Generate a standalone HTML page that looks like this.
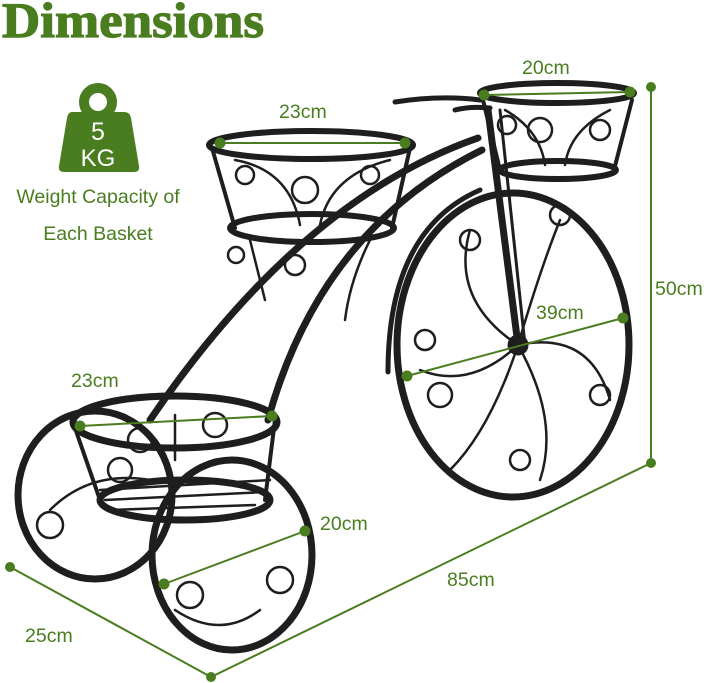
<!DOCTYPE html>
<html><head><meta charset="utf-8"><style>
html,body{margin:0;padding:0;background:#fff;width:720px;height:683px;overflow:hidden}
svg{display:block}
text{font-family:"Liberation Sans",sans-serif;fill:#4a7d1f}
</style></head><body>
<svg width="720" height="683" viewBox="0 0 720 683" xmlns="http://www.w3.org/2000/svg">
<text x="2" y="37" style="font-family:'Liberation Serif',serif;font-weight:bold;font-size:50px;stroke:#4a7d1f;stroke-width:1.2" textLength="262" lengthAdjust="spacingAndGlyphs">Dimensions</text>
<!-- weight icon -->
<circle cx="98" cy="102" r="14" fill="none" stroke="#4a7d1f" stroke-width="10"/>
<path d="M72 112 H124 Q130 112 131 118 L139 166 Q140 172 134 172 H64 Q58 172 59 166 L67 118 Q68 112 72 112Z" fill="#4a7d1f"/>
<text x="98" y="140" text-anchor="middle" style="fill:#fff;font-size:25px">5</text>
<text x="98" y="166" text-anchor="middle" style="fill:#fff;font-size:24px">KG</text>
<text x="98" y="203" text-anchor="middle" style="font-size:19.5px">Weight Capacity of</text>
<text x="98" y="240" text-anchor="middle" style="font-size:19.5px">Each Basket</text>

<g fill="none" stroke="#1e1e1e" stroke-linecap="round">
<path d="M150 420 Q300 200 478 138" stroke-width="7"/>
<path d="M268 420 Q320 230 482 150" stroke-width="7"/>
<path d="M395 102 Q440 95 480 100" stroke-width="5"/>
<path d="M455 110 Q470 106 490 108" stroke-width="5"/>
<path d="M488 110 L518 345" stroke-width="7"/>
<path d="M500 110 L525 345" stroke-width="3"/>
<ellipse cx="513" cy="345" rx="116" ry="152" stroke-width="7"/>
<path d="M388 372 Q388 230 480 190" stroke-width="5"/>
<circle cx="518" cy="345" r="10" fill="#1e1e1e"/>
<g stroke-width="2.5">
<path d="M518 345 Q470 390 420 370"/><path d="M518 345 Q490 430 450 470"/><path d="M518 345 Q560 420 540 480"/>
<path d="M518 345 Q590 330 610 400"/><path d="M518 345 Q540 270 560 220"/><path d="M518 345 Q450 300 470 230"/>
<circle cx="440" cy="395" r="12"/><circle cx="520" cy="460" r="10"/><circle cx="600" cy="395" r="10"/>
<circle cx="425" cy="340" r="10"/><circle cx="470" cy="240" r="10"/><circle cx="560" cy="215" r="10"/>
</g>
<ellipse cx="557" cy="93" rx="77" ry="10" stroke-width="6"/>
<ellipse cx="558" cy="170" rx="58" ry="9" stroke-width="6"/>
<path d="M483 100 L500 170 M632 100 L614 170" stroke-width="4"/>
<g stroke-width="2.5"><path d="M505 110 Q540 130 545 165"/><path d="M610 110 Q570 130 565 165"/><circle cx="540" cy="130" r="12"/><circle cx="600" cy="130" r="10"/><circle cx="507" cy="125" r="9"/></g>
<ellipse cx="311" cy="145" rx="102" ry="14" stroke-width="6"/>
<ellipse cx="312" cy="228" rx="82" ry="14" stroke-width="6"/>
<path d="M212 148 L235 228 M410 148 L392 228" stroke-width="4"/>
<g stroke-width="2.5"><path d="M235 160 Q290 170 300 225"/><path d="M390 160 Q330 175 320 225"/><circle cx="305" cy="190" r="13"/><circle cx="245" cy="175" r="9"/><circle cx="370" cy="175" r="9"/>
<path d="M250 240 Q260 280 265 300"/><path d="M370 240 Q350 280 345 320"/><circle cx="236" cy="255" r="8"/><circle cx="295" cy="265" r="10"/></g>
<ellipse cx="95" cy="495" rx="77" ry="84" stroke-width="7"/>
<g stroke-width="2.5"><circle cx="50" cy="525" r="13"/><circle cx="120" cy="470" r="12"/><path d="M50 510 Q90 470 150 480"/></g>
<ellipse cx="175" cy="422" rx="102" ry="26" stroke-width="7"/>
<ellipse cx="185" cy="500" rx="85" ry="20" stroke-width="7"/>
<path d="M75 428 L100 500 M275 420 L265 500" stroke-width="4"/>
<g stroke-width="2.5"><path d="M100 490 L270 480 M105 500 L265 492 M110 510 L255 505"/><circle cx="215" cy="425" r="12"/><circle cx="140" cy="440" r="12"/><path d="M175 415 L175 460"/></g>
<ellipse cx="232" cy="555" rx="80" ry="95" stroke-width="7"/>
<g stroke-width="2.5"><circle cx="190" cy="595" r="13"/><circle cx="280" cy="580" r="13"/><path d="M175 610 Q220 640 260 610"/></g>
</g>

<g stroke="#4a7d1f" stroke-width="2" fill="#4a7d1f">
<line x1="220" y1="143" x2="405" y2="143"/><circle cx="220" cy="143" r="4.5"/><circle cx="405" cy="143" r="4.5"/>
<line x1="484" y1="95" x2="630" y2="92"/><circle cx="484" cy="95" r="4.5"/><circle cx="630" cy="92" r="4.5"/>
<line x1="407" y1="376" x2="623" y2="318"/><circle cx="407" cy="376" r="4.5"/><circle cx="623" cy="318" r="4.5"/>
<line x1="80" y1="426" x2="272" y2="416"/><circle cx="80" cy="426" r="4.5"/><circle cx="272" cy="416" r="4.5"/>
<line x1="164" y1="584" x2="305" y2="531"/><circle cx="164" cy="584" r="4.5"/><circle cx="305" cy="531" r="4.5"/>
<line x1="651" y1="87" x2="651" y2="463"/><circle cx="651" cy="87" r="4"/><circle cx="651" cy="463" r="4"/>
<line x1="651" y1="463" x2="211" y2="677"/>
<line x1="10" y1="567" x2="211" y2="677"/><circle cx="10" cy="567" r="4"/><circle cx="211" cy="677" r="4"/>
</g>
<g style="font-size:19.5px">
<text x="279" y="118">23cm</text>
<text x="522" y="74">20cm</text>
<text x="536" y="319">39cm</text>
<text x="71" y="387">23cm</text>
<text x="320" y="530">20cm</text>
<text x="655" y="295">50cm</text>
<text x="447" y="586">85cm</text>
<text x="25" y="642">25cm</text>
</g>
</svg>
</body></html>
